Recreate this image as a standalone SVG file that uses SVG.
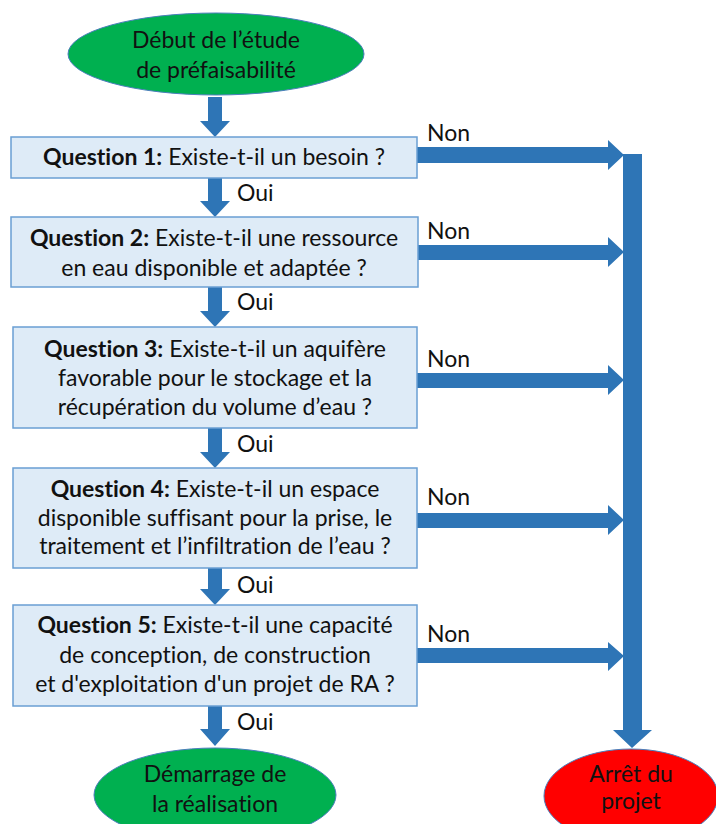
<svg xmlns="http://www.w3.org/2000/svg" width="716" height="824" viewBox="0 0 716 824">
<style>
text{font-family:Lato,"Liberation Sans",sans-serif;font-size:23px;fill:#111;text-anchor:middle;font-variant-ligatures:none}
.lbl{text-anchor:start}
.b{font-weight:bold}
.box{fill:#DEEBF7;stroke:#6A9FD3;stroke-width:1.5}
.arr{fill:#2E75B6}
.ell{stroke:#4A7EBB;stroke-width:1}
</style>
<rect width="716" height="824" fill="#fff"/>
<g id="connectors">
<polygon class="arr" points="208,97 222,97 222,121 230,121 215,137 200,121 208,121"/>
<polygon class="arr" points="208,178 222,178 222,201 230,201 215,217 200,201 208,201"/>
<polygon class="arr" points="208,287 222,287 222,311 230,311 215,327 200,311 208,311"/>
<polygon class="arr" points="208,428 222,428 222,452 230,452 215,468 200,452 208,452"/>
<polygon class="arr" points="208,568 222,568 222,589 230,589 215,605 200,589 208,589"/>
<polygon class="arr" points="208,706 222,706 222,729 230,729 215,746 200,729 208,729"/>
<polygon class="arr" points="417,147 608,147 608,140 624,155 608,170 608,163 417,163"/>
<polygon class="arr" points="418,245 608,245 608,237 624,252 608,267 608,260 418,260"/>
<polygon class="arr" points="417,373 608,373 608,365 624,380 608,395 608,388 417,388"/>
<polygon class="arr" points="417,513 608,513 608,505 624,520 608,535 608,528 417,528"/>
<polygon class="arr" points="417,648 608,648 608,642 624,656 608,671 608,663 417,663"/>
<polygon class="arr" points="623,154 642,154 642,730 652,730 632,748 613,730 623,730"/>
<text class="lbl" x="237" y="201">Oui</text>
<text class="lbl" x="237" y="310">Oui</text>
<text class="lbl" x="237" y="452">Oui</text>
<text class="lbl" x="237" y="593">Oui</text>
<text class="lbl" x="237" y="730">Oui</text>
<text class="lbl" x="427" y="141">Non</text>
<text class="lbl" x="427" y="239">Non</text>
<text class="lbl" x="427" y="367">Non</text>
<text class="lbl" x="427" y="505">Non</text>
<text class="lbl" x="427" y="642">Non</text>
</g>
<g id="start">
<ellipse class="ell" cx="216" cy="54" rx="148" ry="41" fill="#00B050"/>
<text x="216" y="48">Début de l’étude</text>
<text x="216" y="78">de préfaisabilité</text>
</g>
<g id="q1">
<rect class="box" x="11" y="137" width="406" height="41"/>
<text x="214" y="165"><tspan class="b">Question 1:</tspan> Existe-t-il un besoin ?</text>
</g>
<g id="q2">
<rect class="box" x="11" y="217" width="407" height="70"/>
<text x="214" y="246"><tspan class="b">Question 2:</tspan> Existe-t-il une ressource</text>
<text x="214" y="276">en eau disponible et adaptée ?</text>
</g>
<g id="q3">
<rect class="box" x="13" y="327" width="404" height="101"/>
<text x="215" y="357"><tspan class="b">Question 3:</tspan> Existe-t-il un aquifère</text>
<text x="215" y="386">favorable pour le stockage et la</text>
<text x="215" y="415">récupération du volume d’eau ?</text>
</g>
<g id="q4">
<rect class="box" x="13" y="468" width="404" height="100"/>
<text x="215" y="497"><tspan class="b">Question 4:</tspan> Existe-t-il un espace</text>
<text x="215" y="526">disponible suffisant pour la prise, le</text>
<text x="215" y="554">traitement et l’infiltration de l’eau ?</text>
</g>
<g id="q5">
<rect class="box" x="13" y="605" width="404" height="101"/>
<text x="215" y="633"><tspan class="b">Question 5:</tspan> Existe-t-il une capacité</text>
<text x="215" y="663">de conception, de construction</text>
<text x="215" y="692">et d'exploitation d'un projet de RA ?</text>
</g>
<g id="go">
<ellipse class="ell" cx="215" cy="795" rx="121" ry="47" fill="#00B050"/>
<text x="215" y="782">Démarrage de</text>
<text x="215" y="812">la réalisation</text>
</g>
<g id="stop">
<ellipse class="ell" cx="631" cy="796" rx="87" ry="47" fill="#FF0000"/>
<text x="631" y="782">Arrêt du</text>
<text x="631" y="809">projet</text>
</g>
</svg>
